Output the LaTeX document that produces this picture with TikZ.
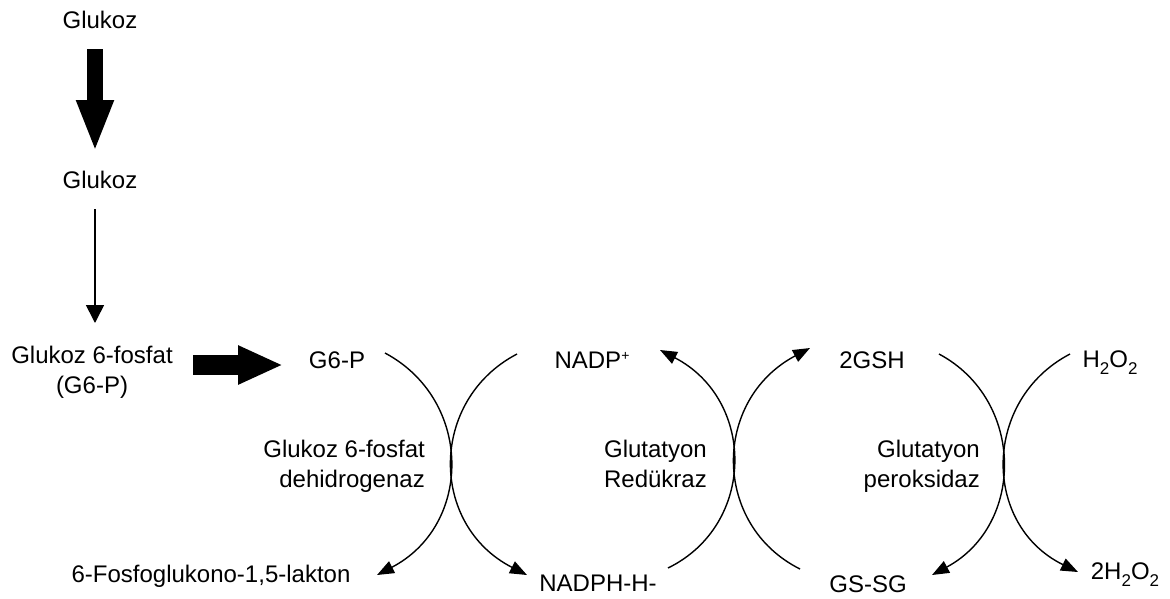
\documentclass[tikz,border=0pt]{standalone}
\usepackage{fontspec}
\setmainfont{Liberation Sans}
\usetikzlibrary{arrows.meta}
\newcommand{\lowtwo}{\raisebox{-7pt}{\fontsize{17}{17}\selectfont 2}}
\newcommand{\highplus}{\raisebox{8pt}{\fontsize{14}{14}\selectfont +}}
\begin{document}
\begin{tikzpicture}[x=1pt,y=-1pt,
  lbl/.style={inner sep=0pt,font=\fontsize{24}{30}\selectfont},
  cyc/.style={line width=1.4pt,-{Triangle[length=17pt,width=13pt]}},
  thin/.style={line width=1.6pt,-{Triangle[length=18pt,width=18pt]}}]
\useasboundingbox[fill=white] (0,0) rectangle (1170,598);
% texts
\node[lbl,anchor=base] (glc1) at (100,28) {Glukoz};
\node[lbl,anchor=base] (glc2) at (100,188) {Glukoz};
\node[lbl,anchor=base,align=center] (g6pl) at (92,393) {Glukoz 6-fosfat\\(G6-P)};
\node[lbl,anchor=base] (g6p) at (337,368) {G6-P};
\node[lbl,anchor=base] (nadp) at (592,368) {NADP\highplus};
\node[lbl,anchor=base] (gsh) at (872,368) {2GSH};
\node[lbl,anchor=base] (h2o2) at (1110,367) {H\lowtwo O\lowtwo};
\node[lbl,anchor=base] (lak) at (211,582) {6-Fosfoglukono-1,5-lakton};
\node[lbl,anchor=base] (nadph) at (598,591) {NADPH-H-};
\node[lbl,anchor=base] (gssg) at (868,592) {GS-SG};
\node[lbl,anchor=base] (h2o) at (1125,579) {2H\lowtwo O\lowtwo};
\node[lbl,anchor=base east,align=right] (e1) at (425,487) {Glukoz 6-fosfat\\dehidrogenaz};
\node[lbl,anchor=base east,align=right] (e2) at (707,487) {Glutatyon\\Redükraz};
\node[lbl,anchor=base east,align=right] (e3) at (980,487) {Glutatyon\\peroksidaz};
% connector endpoints
\coordinate (v1s) at (95,49);  \coordinate (v1e) at (95,152);
\coordinate (v2s) at (95,209); \coordinate (v2e) at (95,323);
\coordinate (hs) at (193,365); \coordinate (he) at (283,365);
\coordinate (c1s) at (385,353); \coordinate (c1e) at (377,575);
\coordinate (c2s) at (517,354); \coordinate (c2e) at (527,575);
\coordinate (c3s) at (668,568); \coordinate (c3e) at (660,350);
\coordinate (c4s) at (800,569); \coordinate (c4e) at (810,348);
\coordinate (c5s) at (939,354); \coordinate (c5e) at (932,575);
\coordinate (c6s) at (1070,354); \coordinate (c6e) at (1078,572);
% arrows
\draw[line width=16pt,-{Triangle[length=52pt,width=34pt]}] (v1s) -- (v1e);
\draw[thin] (v2s) -- (v2e);
\draw[line width=20pt,-{Triangle[length=45pt,width=36pt]}] (hs) -- (he);
\draw[cyc] (c1s) .. controls (473,400) and (473,525) .. (c1e);
\draw[cyc] (c2s) .. controls (429,400) and (429,525) .. (c2e);
\draw[cyc] (c3s) .. controls (756,525) and (756,400) .. (c3e);
\draw[cyc] (c4s) .. controls (712,525) and (712,400) .. (c4e);
\draw[cyc] (c5s) .. controls (1025,400) and (1025,525) .. (c5e);
\draw[cyc] (c6s) .. controls (982,400) and (982,525) .. (c6e);
\end{tikzpicture}
\end{document}
